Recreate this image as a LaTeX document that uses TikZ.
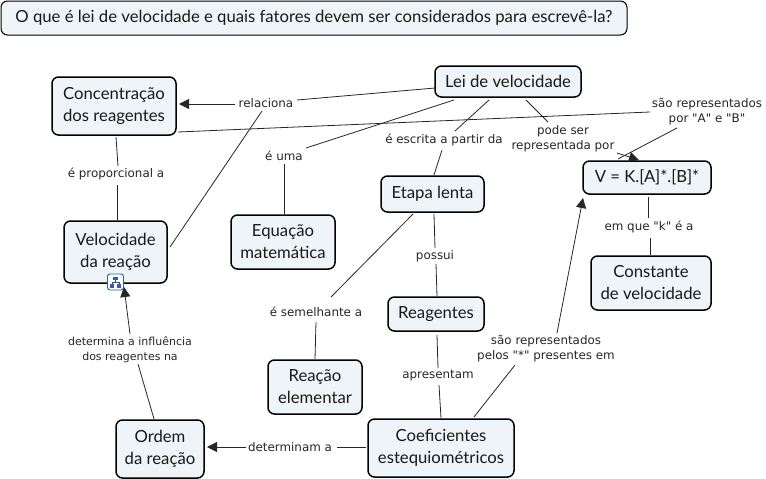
\documentclass[tikz,border=0pt]{standalone}
\usepackage{fontspec}
\setmainfont{Lato}
\newfontfamily\lblfont{DejaVu Sans}
\usetikzlibrary{arrows.meta}
\definecolor{boxfill}{HTML}{EEF4F7}
\definecolor{iconblue}{HTML}{2F5FB0}
\tikzset{
  x=1pt,y=-1pt,
  concept/.style={draw=black,line width=1.5pt,rounded corners=6.5pt,fill=boxfill,align=center,inner sep=0pt,font=\fontsize{16.7}{22}\selectfont,text=black!90},
  linkname/.style={align=center,inner sep=0pt,font=\lblfont\fontsize{11.9}{15}\selectfont,text=black!85},
  conn/.style={draw=black!85,line width=0.8pt},
  arr/.style={conn,-{Triangle[length=10pt,width=10pt]}},
}
\newcommand{\off}[3]{([shift={(#2,#3)}]#1.center)}
\begin{document}
\begin{tikzpicture}
\useasboundingbox (0,0) rectangle (766,479);
\node[concept,minimum width=626pt,minimum height=34pt,line width=1pt,font=\fontsize{16.7}{20}\selectfont] (title) at (314,18) {O que é lei de velocidade e quais fatores devem ser considerados para escrevê-la?};
\node[concept,minimum width=124pt,minimum height=58pt] (conc) at (114,106) {Concentração\\dos reagentes};
\node[concept,minimum width=146pt,minimum height=31pt] (lei) at (508,81.5) {Lei de velocidade};
\node[concept,minimum width=103pt,minimum height=62pt] (vel) at (115.5,252) {Velocidade\\da reação};
\node[concept,minimum width=104pt,minimum height=54pt] (equ) at (283,242) {Equação\\matemática};
\node[concept,minimum width=103pt,minimum height=36pt] (etapa) at (432.5,194) {Etapa lenta};
\node[concept,minimum width=128pt,minimum height=33pt] (v) at (647,177.5) {V = K.[A]*.[B]*};
\node[concept,minimum width=120pt,minimum height=54pt] (cons) at (651,283) {Constante\\de velocidade};
\node[concept,minimum width=96pt,minimum height=34pt] (reag) at (436,314) {Reagentes};
\node[concept,minimum width=94pt,minimum height=54pt] (reac) at (315,387) {Reação\\elementar};
\node[concept,minimum width=88pt,minimum height=58pt] (ordem) at (160,449) {Ordem\\da reação};
\node[concept,minimum width=146pt,minimum height=58pt] (coef) at (441,448) {Coeficientes\\estequiométricos};
\node[linkname] (relaciona) at (266,103) {relaciona};
\node[linkname] (repab) at (707,111.5) {são representados\\por "A" e "B"};
\node[linkname] (pode) at (563,138.5) {pode ser\\representada por};
\node[linkname] (escrita) at (444,140) {é escrita a partir da};
\node[linkname] (euma) at (284,156) {é uma};
\node[linkname] (prop) at (116,174) {é proporcional a};
\node[linkname] (semel) at (316,312) {é semelhante a};
\node[linkname] (possui) at (435,256) {possui};
\node[linkname] (apres) at (438,376) {apresentam};
\node[linkname] (pelos) at (546,348.5) {são representados\\pelos "*" presentes em};
\node[linkname] (detn) at (290,447) {determinam a};
\node[linkname,font=\lblfont\fontsize{11}{15}\selectfont] (dinf) at (130,349.5) {determina a influência\\dos reagentes na};
\node[linkname] (emque) at (649,227) {em que "k" é a};
\draw[conn] \off{lei}{-73}{6.5} -- \off{relaciona}{31}{-3};
\draw[arr] \off{relaciona}{-31}{1} -- \off{conc}{65}{-2};
\draw[conn] \off{relaciona}{-4}{8} -- \off{vel}{54.5}{-5};
\draw[conn] \off{conc}{64}{26} -- \off{repab}{-57}{0.5};
\draw[conn] \off{repab}{-30}{16.5} -- \off{v}{-29}{-18.5};
\draw[conn] \off{lei}{18}{18.5} -- \off{pode}{-15}{-16.5};
\draw[arr] \off{pode}{54}{14.5} -- \off{v}{-8}{-17.5};
\draw[conn] \off{lei}{-19}{18.5} -- \off{escrita}{11}{-9};
\draw[conn] \off{escrita}{-2}{10} -- \off{etapa}{1.5}{-19};
\draw[conn] \off{lei}{-54}{18.5} -- \off{euma}{22}{-8};
\draw[conn] \off{euma}{0}{8} -- \off{equ}{1}{-28};
\draw[conn] \off{conc}{2}{31} -- \off{prop}{2}{-8};
\draw[conn] \off{prop}{1}{11} -- \off{vel}{1.5}{-32};
\draw[conn] \off{etapa}{-19.5}{20} -- \off{semel}{15}{-15};
\draw[conn] \off{semel}{0}{10} -- \off{reac}{0}{-28};
\draw[conn] \off{etapa}{1.5}{20} -- \off{possui}{0}{-8};
\draw[conn] \off{possui}{1}{8} -- \off{reag}{1}{-18};
\draw[conn] \off{reag}{1}{21} -- \off{apres}{0}{-8};
\draw[conn] \off{apres}{1}{9} -- \off{coef}{0}{-30};
\draw[conn] \off{coef}{33}{-31} -- \off{pelos}{-31}{16.5};
\draw[arr] \off{pelos}{11}{-15.5} -- \off{v}{-64}{20.5};
\draw[conn] \off{coef}{-75}{-1} -- \off{detn}{47}{0};
\draw[arr] \off{detn}{-44}{0} -- \off{ordem}{47}{-2};
\draw[conn] \off{ordem}{-6}{-30} -- \off{dinf}{8}{14.5};
\draw[arr] \off{dinf}{0}{-15.5} -- \off{vel}{8.5}{35};
\draw[conn] \off{v}{1}{19.5} -- \off{emque}{-1}{-9};
\draw[conn] \off{emque}{1}{11} -- \off{cons}{-1}{-28};
% resource icon
\node[draw=iconblue,fill=white,line width=0.9pt,rounded corners=2.5pt,minimum size=16pt,inner sep=0pt] (icon) at (115.5,282) {};
\fill[iconblue] ([shift={(-2.5,-5.5)}]icon.center) rectangle ++(5,3);
\fill[iconblue] ([shift={(-5.5,2)}]icon.center) rectangle ++(4,4);
\fill[iconblue] ([shift={(1.5,2)}]icon.center) rectangle ++(4,4);
\draw[black!70,line width=0.5pt] ([shift={(0,-2.5)}]icon.center) -- ([shift={(0,0)}]icon.center) ([shift={(-3.5,2)}]icon.center) -- ([shift={(-3.5,0)}]icon.center) -- ([shift={(3.5,0)}]icon.center) -- ([shift={(3.5,2)}]icon.center);
\end{tikzpicture}
\end{document}
